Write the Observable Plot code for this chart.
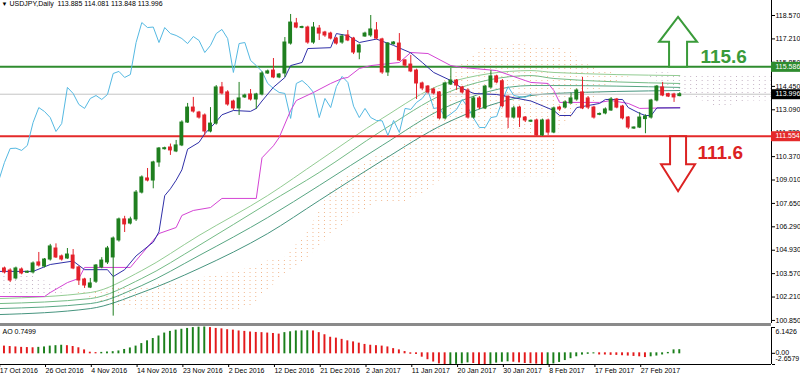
<!DOCTYPE html>
<html><head><meta charset="utf-8">
<script src="https://cdn.jsdelivr.net/npm/d3@7"></script>
<script src="https://cdn.jsdelivr.net/npm/@observablehq/plot@0.6"></script>
<style>
html,body{margin:0;padding:0;background:#fff;}
#chart{position:relative;width:800px;height:378px;overflow:hidden;background:#fff;font-family:"Liberation Sans",Arial,sans-serif;}
#main{position:absolute;left:0;top:0;}
#sep{position:absolute;left:0;top:323px;width:771px;height:3px;background:#8a8a8a;}
#ao{position:absolute;left:0;top:326px;}
</style></head>
<body><div id="chart"><div id="main"></div><div id="sep"></div><div id="ao"></div></div>
<script>
// ---------------- DATA ----------------
const titleText = "USDJPY,Daily  113.885 114.081 113.848 113.996";
const aoTitle = "AO 0.7499";
const firstBar = 1;
const opens  = [103.87,103.75,103.29,103.81,103.62,103.64,104.22,103.98,104.39,105.03,104.57,104.45,104.62,103.93,103.23,102.76,103.10,103.93,104.22,104.51,105.50,106.72,106.48,106.72,108.28,109.10,108.98,110.03,110.80,110.90,110.67,111.02,112.35,113.22,112.93,112.76,111.83,112.29,114.39,114.10,113.57,113.17,113.81,113.98,113.69,113.98,115.20,115.37,114.97,115.20,116.94,118.11,117.85,117.87,117.00,117.81,117.58,117.52,117.23,117.00,117.41,117.23,116.42,117.35,117.41,117.70,117.18,115.26,116.90,116.94,115.96,115.72,115.37,114.62,114.44,114.27,114.10,112.59,114.56,114.79,114.39,114.21,112.64,113.75,113.17,114.39,115.03,114.75,113.85,112.64,113.22,112.64,112.40,112.47,111.60,112.47,111.77,113.22,113.22,113.46,113.69,114.10,113.75,113.22,112.80,112.88,113.05,113.69,113.28,112.64,112.00,112.06,112.55,112.64,113.63,114.39,114.00,113.98,113.885];
const highs  = [103.95,103.85,103.95,103.90,103.72,104.25,104.80,104.45,105.27,105.30,104.65,105.03,104.97,104.00,103.30,103.29,104.10,104.50,105.15,105.70,106.80,106.90,106.85,108.40,109.25,109.68,110.10,110.90,110.92,111.10,111.31,112.45,113.46,113.81,113.00,112.85,113.22,114.50,114.68,114.20,113.65,114.68,114.00,114.27,114.05,115.30,115.40,116.07,115.20,117.29,118.63,118.40,117.95,117.95,118.16,117.99,117.65,117.60,117.30,117.45,117.70,117.30,116.90,117.60,118.57,118.16,117.25,117.00,117.05,117.52,116.00,116.25,115.45,114.70,114.50,114.35,114.15,114.70,115.49,114.85,114.45,114.30,113.85,113.85,114.50,115.37,115.10,114.85,113.90,113.30,113.30,112.70,112.50,112.55,112.55,112.55,113.25,113.30,113.60,114.04,114.30,114.97,113.85,113.30,112.90,113.20,113.80,113.75,113.35,112.70,112.10,112.93,112.80,113.70,114.50,114.68,114.05,114.05,114.081];
const lows   = [103.55,103.05,103.20,103.50,103.58,103.55,103.95,103.90,104.30,104.45,104.30,104.40,103.80,102.88,102.71,102.70,103.00,103.85,104.10,101.10,105.40,105.96,106.40,106.60,108.20,108.90,108.50,109.75,110.75,110.44,110.60,110.95,112.30,112.90,112.55,111.60,111.75,112.20,113.95,113.30,113.05,112.76,113.75,113.60,113.11,113.90,115.15,114.90,114.90,114.97,116.85,117.80,117.80,116.90,116.90,117.12,117.30,117.15,116.85,116.90,117.05,116.30,116.00,117.30,117.30,117.15,115.15,115.03,116.85,115.90,115.55,115.25,113.69,114.20,114.00,113.95,112.50,112.50,114.50,114.21,114.00,112.55,112.55,113.10,113.10,114.30,114.60,113.20,112.00,112.55,112.06,112.35,112.35,111.55,111.55,111.60,111.70,113.00,113.15,113.40,113.60,113.10,113.10,112.55,112.75,112.80,113.00,113.15,112.50,111.95,111.95,112.00,111.70,112.55,113.55,113.85,113.80,113.52,113.848];
const closes = [103.64,103.17,103.87,103.58,103.68,104.16,104.04,104.39,105.15,104.51,104.39,104.68,103.87,103.17,102.88,103.00,104.04,104.33,105.03,105.61,106.72,106.43,106.72,108.28,109.16,108.98,110.03,110.84,110.86,110.73,111.02,112.35,113.22,112.99,112.64,111.83,112.29,114.39,114.04,113.40,113.17,113.75,113.92,113.69,113.98,115.20,115.32,114.97,115.14,117.00,118.16,117.87,117.90,117.00,117.87,117.52,117.41,117.23,116.94,117.35,117.12,116.42,116.83,117.52,117.76,117.23,115.26,116.94,117.00,115.96,115.66,115.32,114.62,114.33,114.10,114.04,112.59,114.62,114.79,114.50,114.10,112.64,113.75,113.22,114.44,115.03,114.68,113.30,112.64,113.17,112.64,112.47,112.45,111.60,112.47,111.77,113.17,113.11,113.52,113.75,114.21,113.17,113.22,112.64,112.85,113.11,113.69,113.22,112.59,112.06,112.06,112.64,112.70,113.63,114.44,113.92,113.86,113.81,113.996];

// Ichimoku lines (bar index, price)
const tenkanIdx = [0,6,9,13,15,19,20,22,24,27,28,29,30,31,32,33,35,36,38,39,41,44,45,46,48,50,51,53,54,58,59,61,62,63,66,69,72,74,76,79,81,83,87,88,93,97,98,100,101,105,106,109,110,112,113,114,115,119];
const tenkanVal = [103.7,103.7,104.1,104.3,103.8,103.8,103.4,103.8,104.6,105.4,106.0,108.1,108.5,109.0,109.6,110.8,111.2,111.7,112.4,112.8,113.05,113.0,113.17,113.6,114.4,114.97,115.66,115.84,116.65,116.7,117.52,117.4,117.2,117.0,117.2,116.83,116.4,115.84,115.26,114.79,114.33,114.04,113.98,113.92,113.6,113.05,112.76,112.76,113.22,113.46,113.69,113.69,113.22,112.88,112.76,112.76,113.2,113.2];
const kijunIdx = [0,8,9,12,14,15,23,24,28,31,32,34,37,39,45,46,48,49,51,52,55,58,60,61,63,65,70,72,75,79,81,87,92,93,96,97,98,105,107,110,112,119];
const kijunVal = [102.24,102.24,102.47,103.05,103.29,103.93,103.93,104.33,105.9,106.25,106.95,107.24,107.41,107.94,107.94,110.3,111.0,111.48,113.05,113.63,114.1,114.62,114.91,114.97,115.49,115.66,115.84,116.42,116.36,115.66,115.55,115.37,114.79,114.68,114.62,114.21,113.52,113.52,113.63,113.46,113.17,113.22];
const chikouShift = 26;
const cloudIdx = [0,6,10,13,20,30,40,44,47,50,54,58,62,66,70,72,74,76,78,80,82,85,91,97,98,100,102,104,106,108,110,113,116,119,123,126,131,135];
const spanA = [102.0,102.1,102.4,102.5,102.7,103.0,103.6,103.9,104.3,104.5,106.0,108.4,109.6,110.5,110.5,112.0,113.0,114.0,114.8,115.4,116.1,116.7,116.9,116.7,116.7,116.4,115.9,115.5,115.3,115.2,115.15,115.1,114.6,114.1,113.6,113.2,113.6,113.6];
const spanB = [103.4,103.4,102.9,102.5,101.6,101.4,101.4,101.6,102.6,103.5,104.5,105.8,106.9,107.6,107.6,107.9,108.2,108.7,109.2,109.2,109.2,109.2,109.2,109.2,112.0,112.5,113.4,113.56,114.5,114.6,115.0,115.1,115.3,115.1,115.1,115.1,115.06,115.06];

// Moving averages
const maIdx = [0,16,25,35,47,56,67,78,93,97,119];
const ma1 = [102.12,102.47,103.75,105.79,108.11,110.14,112.59,114.62,115.37,115.26,115.08];
const ma2 = [101.83,102.12,103.29,105.21,107.65,109.45,111.89,114.04,115.08,114.91,114.62];
const ma3 = [101.54,101.83,102.88,104.62,106.83,108.69,111.02,113.22,114.50,114.50,114.39];
const ma4 = [101.19,101.54,102.47,103.87,105.90,107.82,110.14,112.29,113.92,114.04,114.21];

// Awesome Oscillator, bars 0..119
const aoVals = [1.7,1.6,1.5,1.4,1.3,1.25,1.2,1.3,1.4,1.6,1.7,1.8,1.7,1.5,1.2,0.7,0.15,0.05,0.1,0.2,0.27,0.45,0.8,1.16,1.6,2.2,2.85,3.4,4.0,4.7,5.1,5.4,5.6,5.8,6.0,6.1,6.1426,6.0,5.8,5.7,5.5,5.4,5.2,5.1,4.95,4.85,4.8,4.7,4.6,4.45,4.8,5.0,5.2,5.22,5.25,5.2,4.8,4.3,3.7,3.5,3.2,2.85,2.6,2.3,2.0,1.8,1.7,1.6,1.4,1.0,0.7,0.3,-0.1,-0.15,-0.8,-1.4,-1.95,-2.4,-2.6579,-2.6,-2.5,-2.4,-2.15,-2.3,-2.6,-2.63,-2.5,-2.2,-2.0,-1.9,-2.0,-2.15,-2.3,-2.35,-2.45,-2.58,-2.55,-2.4,-2.05,-1.6,-1.16,-0.7,-0.3,-0.12,-0.02,-0.27,-0.28,-0.36,-0.37,-0.45,-0.53,-0.62,-0.71,-0.89,-0.71,-0.53,-0.27,0.09,0.7,0.7499];
const aoTicks = [6.1426, 0, -2.6579];
const aoTickText = ["6.1426", "0.00", "-2.6579"];

// Axes
const priceTicks = [118.57,117.21,115.85,114.45,113.09,111.73,110.37,109.01,107.65,106.29,104.93,103.57,102.21,100.85];
const dateIdx = [0,8,16,24,32,40,48,56,64,72,80,88,96,104,112];
const dateLabels = ["17 Oct 2016","26 Oct 2016","4 Nov 2016","14 Nov 2016","23 Nov 2016","2 Dec 2016","12 Dec 2016","21 Dec 2016","2 Jan 2017","11 Jan 2017","20 Jan 2017","30 Jan 2017","8 Feb 2017","17 Feb 2017","27 Feb 2017"];

// Levels
const resistance = 115.586, support = 111.554, lastPrice = 113.996;
const resistanceText = "115.6", supportText = "111.6";

// ---------------- LAYOUT ----------------
const PX = 5.723, X0 = -1.76, PLOT_W = 771;
const xDomain = [(0 - X0) / PX, (PLOT_W - X0) / PX];
const yMainDomain = [100.672, 119.442];
const FONT = "Liberation Sans, Arial, sans-serif";
const GREEN = "#1f7f1f", RED = "#e3202a";
const LV_GREEN = "#2f8c2f", LV_RED = "#e42a2a";
const TXT_GREEN = "#3a9b3a", TXT_RED = "#dc2222";
const CLOUD_A = "#ee9a55", CLOUD_B = "#bca6bc";

const candles = opens.map((o, k) => ({i: k + firstBar, o, h: highs[k], l: lows[k], c: closes[k]}));
const isUp = d => d.c >= d.o;
const tenkan = tenkanIdx.map((i, k) => ({i, p: tenkanVal[k]}));
const kijun = kijunIdx.map((i, k) => ({i, p: kijunVal[k]}));
const chikou = candles.slice(chikouShift - firstBar).map((d, j) => ({i: j, p: d.c}));
const cloud = cloudIdx.map((i, k) => ({i, a: spanA[k], b: spanB[k]}));
const mas = [ma1, ma2, ma3, ma4].map(arr => maIdx.map((i, k) => ({i, p: arr[k]})));
const maColors = ["#93cc93", "#74bb86", "#58a683", "#47957f"];
const ao = aoVals.map((v, i) => ({i, v, up: i > 0 && v > aoVals[i - 1]}));
const boxes = [{p: resistance, bg: LV_GREEN}, {p: lastPrice, bg: "#000"}, {p: support, bg: LV_RED}];
const arrowAt = 118.7;
const upArrow = {draw(ctx) {
  ctx.moveTo(-9, 0); ctx.lineTo(9, 0); ctx.lineTo(9, -25); ctx.lineTo(19, -25);
  ctx.lineTo(0, -50); ctx.lineTo(-19, -25); ctx.lineTo(-9, -25); ctx.closePath();
}};
const downArrow = {draw(ctx) {
  ctx.moveTo(-8, 0); ctx.lineTo(8, 0); ctx.lineTo(8, 28); ctx.lineTo(17, 28);
  ctx.lineTo(0, 55); ctx.lineTo(-17, 28); ctx.lineTo(-8, 28); ctx.closePath();
}};

const mainSvg = Plot.plot({
  width: 800, height: 323, marginLeft: 0, marginRight: 29, marginTop: 0, marginBottom: 0,
  x: {domain: xDomain, axis: null},
  y: {domain: yMainDomain, axis: null},
  style: {background: "#fff", fontFamily: FONT, overflow: "visible"},
  marks: [
    Plot.areaY(cloud, {x: "i", y1: "b", y2: d => Math.max(d.a, d.b), fill: CLOUD_A}),
    Plot.areaY(cloud, {x: "i", y1: "a", y2: d => Math.max(d.a, d.b), fill: CLOUD_B}),
    ...mas.map((m, k) => Plot.line(m, {x: "i", y: "p", stroke: maColors[k], strokeWidth: 1, curve: "monotone-x"})),
    Plot.ruleY([lastPrice], {stroke: "#c4c4c4", strokeWidth: 1}),
    Plot.ruleY([resistance], {stroke: LV_GREEN, strokeWidth: 2}),
    Plot.ruleY([support], {stroke: LV_RED, strokeWidth: 2}),
    Plot.line(chikou, {x: "i", y: "p", stroke: "#55b9e2", strokeWidth: 1}),
    Plot.line(kijun, {x: "i", y: "p", stroke: "#d444d4", strokeWidth: 1}),
    Plot.line(tenkan, {x: "i", y: "p", stroke: "#3030a8", strokeWidth: 1}),
    Plot.ruleX(candles, {filter: isUp, x: "i", y1: "l", y2: "h", stroke: GREEN, strokeWidth: 1}),
    Plot.ruleX(candles, {filter: d => !isUp(d), x: "i", y1: "l", y2: "h", stroke: RED, strokeWidth: 1}),
    Plot.rect(candles, {filter: isUp, x1: d => d.i - 0.34, x2: d => d.i + 0.34, y1: "o", y2: "c", fill: GREEN, insetTop: -0.5, insetBottom: -0.5}),
    Plot.rect(candles, {filter: d => !isUp(d), x1: d => d.i - 0.34, x2: d => d.i + 0.34, y1: "o", y2: "c", fill: RED, insetTop: -0.5, insetBottom: -0.5}),
    Plot.dot([resistance], {x: () => arrowAt, y: d => d, symbol: upArrow, r: 10, fill: "#fff", stroke: TXT_GREEN, strokeWidth: 2}),
    Plot.dot([support], {x: () => arrowAt, y: d => d, symbol: downArrow, r: 10, fill: "#fff", stroke: TXT_RED, strokeWidth: 2}),
    Plot.text([resistanceText], {x: () => 122.6, y: () => resistance, text: d => d, dy: -10, textAnchor: "start", fill: TXT_GREEN, fontSize: 19, fontWeight: "bold"}),
    Plot.text([supportText], {x: () => 122.1, y: () => support, text: d => d, dy: 17, textAnchor: "start", fill: TXT_RED, fontSize: 19, fontWeight: "bold"}),
    Plot.axisY(priceTicks, {anchor: "right", tickSize: 3, tickPadding: 1, tickFormat: d3.format(".3f"), fontSize: 7, label: null}),
    Plot.ruleX([xDomain[1]], {stroke: "#000", strokeWidth: 1}),
    Plot.ruleY(boxes.filter(b => b.bg === LV_GREEN), {y: "p", x1: xDomain[1], x2: xDomain[1] + 30 / PX, stroke: LV_GREEN, strokeWidth: 10}),
    Plot.ruleY(boxes.filter(b => b.bg === "#000"), {y: "p", x1: xDomain[1], x2: xDomain[1] + 30 / PX, stroke: "#000", strokeWidth: 10}),
    Plot.ruleY(boxes.filter(b => b.bg === LV_RED), {y: "p", x1: xDomain[1], x2: xDomain[1] + 30 / PX, stroke: LV_RED, strokeWidth: 10}),
    Plot.text(boxes, {x: () => xDomain[1], y: "p", text: d => d.p.toFixed(3), dx: 4, textAnchor: "start", fill: "#fff", fontSize: 7}),
    Plot.text(["\u25BC"], {frameAnchor: "top-left", text: d => d, dx: 1, dy: 1, lineAnchor: "top", textAnchor: "start", fontSize: 6, fill: "#000"}),
    Plot.text([titleText], {frameAnchor: "top-left", text: d => d, dx: 9, dy: 1, lineAnchor: "top", textAnchor: "start", fontSize: 7, fill: "#000"})
  ]
});

// dotted hatch patterns for the Ichimoku cloud
const SVGNS = "http://www.w3.org/2000/svg";
const defs = document.createElementNS(SVGNS, "defs");
function dotPattern(id, color) {
  const p = document.createElementNS(SVGNS, "pattern");
  p.setAttribute("id", id);
  p.setAttribute("patternUnits", "userSpaceOnUse");
  p.setAttribute("x", String(X0 - 0.5));
  p.setAttribute("y", "0");
  p.setAttribute("width", String(PX));
  p.setAttribute("height", "4");
  const r = document.createElementNS(SVGNS, "rect");
  r.setAttribute("width", "1.2");
  r.setAttribute("height", "1.2");
  r.setAttribute("fill", color);
  r.setAttribute("shape-rendering", "crispEdges");
  p.appendChild(r);
  defs.appendChild(p);
}
dotPattern("dotsA", "#f1b58a");
dotPattern("dotsB", "#c3b1c3");
mainSvg.insertBefore(defs, mainSvg.firstChild);
function patternize(color, id) {
  mainSvg.querySelectorAll("[fill]").forEach(el => {
    if ((el.getAttribute("fill") || "").toLowerCase() === color) el.setAttribute("fill", "url(#" + id + ")");
  });
}
patternize(CLOUD_A, "dotsA");
patternize(CLOUD_B, "dotsB");
document.getElementById("main").appendChild(mainSvg);

const aoSvg = Plot.plot({
  width: 800, height: 52, marginLeft: 0, marginRight: 29, marginTop: 1, marginBottom: 14,
  x: {domain: xDomain, axis: null},
  y: {domain: [aoTicks[2], aoTicks[0]], axis: null},
  style: {background: "#fff", fontFamily: FONT, overflow: "visible"},
  marks: [
    Plot.rect(ao, {filter: d => d.up, x1: d => d.i - 0.17, x2: d => d.i + 0.17, y1: 0, y2: "v", fill: "#1b7f1b", insetTop: -0.5, insetBottom: -0.5}),
    Plot.rect(ao, {filter: d => !d.up, x1: d => d.i - 0.17, x2: d => d.i + 0.17, y1: 0, y2: "v", fill: "#e31a1c", insetTop: -0.5, insetBottom: -0.5}),
    Plot.ruleY([aoTicks[2]], {stroke: "#000", strokeWidth: 1}),
    Plot.ruleX([xDomain[1]], {stroke: "#000", strokeWidth: 1}),
    Plot.axisY(aoTicks, {anchor: "right", tickSize: 3, tickFormat: () => "", label: null}),
    Plot.text([aoTickText[0]], {x: () => xDomain[1], y: () => aoTicks[0], text: d => d, dx: 4, dy: 4, textAnchor: "start", fontSize: 7, fill: "#000"}),
    Plot.text([aoTickText[1]], {x: () => xDomain[1], y: () => aoTicks[1], text: d => d, dx: 4, dy: -1, textAnchor: "start", fontSize: 7, fill: "#000"}),
    Plot.text([aoTickText[2]], {x: () => xDomain[1], y: () => aoTicks[2], text: d => d, dx: 4, dy: -6, textAnchor: "start", fontSize: 7, fill: "#000"}),
    Plot.axisX(dateIdx, {anchor: "bottom", tickSize: 3, tickPadding: 1, tickFormat: i => dateLabels[dateIdx.indexOf(i)], textAnchor: "start", dx: 1, fontSize: 7, label: null}),
    Plot.text([aoTitle], {frameAnchor: "top-left", text: d => d, dx: 2, dy: 2, lineAnchor: "top", textAnchor: "start", fontSize: 7, fill: "#000"})
  ]
});
document.getElementById("ao").appendChild(aoSvg);
</script>
</body></html>
